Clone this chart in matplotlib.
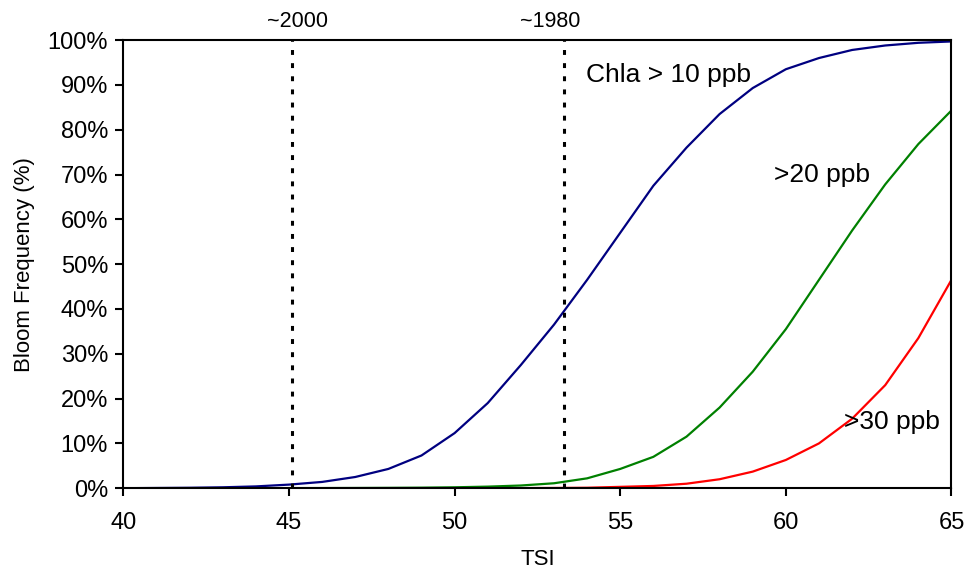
import matplotlib
matplotlib.use("Agg")
import matplotlib.pyplot as plt
from matplotlib.ticker import PercentFormatter

tsi = list(range(40, 66))
chla_10 = [0.0, 0.05, 0.1, 0.2, 0.4, 0.8, 1.4, 2.5, 4.3, 7.3, 12.3, 19.0, 27.5, 36.5,
           46.5, 57.0, 67.5, 76.0, 83.5, 89.3, 93.5, 96.0, 97.8, 98.8, 99.4, 99.7]
chla_20 = [0.0, 0.0, 0.0, 0.0, 0.0, 0.02, 0.03, 0.05, 0.08, 0.12, 0.2, 0.35, 0.6, 1.1,
           2.2, 4.3, 7.0, 11.5, 18.0, 26.0, 35.5, 46.5, 57.5, 67.8, 76.8, 84.3]
chla_30 = [0.0] * 12 + [0.02, 0.05, 0.1, 0.3, 0.5, 1.0, 2.0, 3.7, 6.3, 10.0, 15.5, 23.0, 33.5, 46.5]

year_tsi = [45.1, 53.3]
year_label_x = [45.25, 52.9]
year_labels = ["~2000", "~1980"]

plt.rcParams['font.family'] = ['Liberation Sans', 'DejaVu Sans']

fig = plt.figure(figsize=(9.64, 5.73), dpi=100)
ax = fig.add_axes([0.128, 0.148, 0.859, 0.782])

ax.plot(tsi, chla_10, color='#000080', lw=1.6)
ax.plot(tsi, chla_20, color='#008000', lw=1.6)
ax.plot(tsi, chla_30, color='#ff0000', lw=1.6)

for x, lx, lab in zip(year_tsi, year_label_x, year_labels):
    ax.axvline(x, color='black', lw=2.2, linestyle=(0, (1.6, 2.7)))
    ax.text(lx, 102.9, lab, ha='center', va='baseline', fontsize=15.5)

ax.text(53.97, 92.2, "Chla > 10 ppb", fontsize=19, va='center')
ax.text(59.65, 69.9, ">20 ppb", fontsize=19, va='center')
ax.text(61.77, 14.7, ">30 ppb", fontsize=19, va='center')

ax.set_xlim(40, 65)
ax.set_ylim(0, 100)
ax.set_xticks(range(40, 66, 5))
ax.set_yticks(range(0, 101, 10))
ax.yaxis.set_major_formatter(PercentFormatter(decimals=0))
ax.tick_params(direction='out', length=6, width=1.5, labelsize=17, pad=5)
ax.tick_params(axis='x', pad=11)
for s in ax.spines.values():
    s.set_linewidth(1.5)

ax.set_xlabel("TSI", fontsize=16, labelpad=11)
ax.set_ylabel("Bloom Frequency (%)", fontsize=16, labelpad=9)

fig.savefig("out.png", dpi=100)
